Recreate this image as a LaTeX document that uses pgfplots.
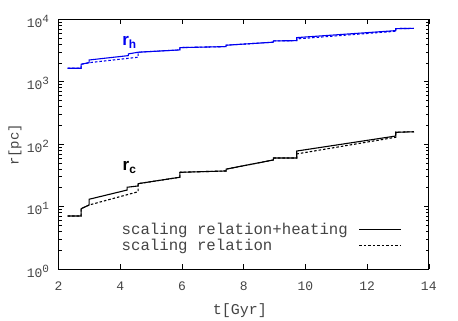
\documentclass[border=0pt]{standalone}
\usepackage{fontspec}
\setmainfont{Liberation Mono}
\newfontfamily\labfont{Liberation Sans}
\usepackage{pgfplots}
\pgfplotsset{compat=1.18}
\definecolor{rhblue}{HTML}{0000F0}
\definecolor{txtgray}{HTML}{444444}
\newcommand{\tenexp}[1]{10\raisebox{5pt}{\fontsize{11}{11}\selectfont#1}}

\begin{document}
\begin{tikzpicture}
\begin{axis}[
  at={(0pt,0pt)}, anchor=south west,
  scale only axis, width=370.2pt, height=249.7pt,
  xmin=2, xmax=14, ymode=log, ymin=1, ymax=10000,
  xtick={2,4,6,8,10,12,14},
  xticklabels={2,4,6,8,10,12,14},
  ytick={1,10,100,1000,10000},
  yticklabels={\tenexp{0},\tenexp{1},\tenexp{2},\tenexp{3},\tenexp{4}},
  tick align=inside,
  major tick length=5pt, minor tick length=3pt,
  tick style={black, line width=0.6pt},
  axis line style={black, line width=0.9pt},
  xticklabel style={font=\fontsize{13}{13}\selectfont, text=txtgray, yshift=-9pt},
  yticklabel style={font=\fontsize{13}{13}\selectfont, text=txtgray, xshift=-6pt, yshift=-2pt},
  xlabel={t[Gyr]}, ylabel={r[pc]},
  every axis x label/.style={at={(axis description cs:0.49,-0.167)}, anchor=center,
    font=\fontsize{15}{15}\selectfont, text=txtgray},
  every axis y label/.style={at={(axis description cs:-0.118,0.497)}, anchor=center, rotate=90,
    font=\fontsize{14}{14}\selectfont, text=txtgray},
  legend plot pos=right,
  legend cell align=left,
  legend image code/.code={\draw[#1] (0pt,0pt) -- (42pt,0pt);},
  legend style={draw=none, fill=none, at={(0.936,0.126)}, anchor=east,
    font=\fontsize{15.7}{15.7}\selectfont, text=txtgray, row sep=1pt, column sep=6pt,
    nodes={inner xsep=5pt, inner ysep=1pt}},
  clip=false,
]
% r_h, scaling relation + heating
\addplot[rhblue, line width=1.1pt, forget plot] coordinates {
  (2.29,1645) (2.73,1645) (2.73,1905) (2.99,2020) (2.99,2230) (4.26,2620)
  (4.26,2790) (4.58,2970) (5.93,3235) (5.93,3520) (7.43,3655) (7.43,3845)
  (8.96,4300) (8.96,4510) (9.72,4550) (9.72,5090) (12.93,6590) (12.93,7100)
  (13.52,7150)
};
% r_h, scaling relation
\addplot[rhblue, line width=1.1pt, dash pattern=on 2.5pt off 2pt, forget plot] coordinates {
  (2.29,1645) (2.73,1645) (2.73,1905) (2.99,2020) (4.58,2470) (4.58,2970)
  (5.93,3235) (5.93,3520) (7.43,3655) (7.43,3845) (8.96,4300) (8.96,4510)
  (9.72,4550) (9.72,4850) (12.93,6440) (12.93,7100) (13.52,7150)
};
% r_c, scaling relation + heating
\addplot[black, line width=1.1pt] coordinates {
  (2.29,7.07) (2.73,7.07) (2.73,9.25) (2.99,10.6) (2.99,13.1) (4.22,18.4)
  (4.22,20.4) (4.58,21.4) (4.58,23.3) (5.93,29.5) (5.93,35.4) (7.43,37.2)
  (7.43,39.8) (8.96,55.8) (8.96,60.1) (9.72,60.1) (9.72,77.6) (12.93,135)
  (12.93,155) (13.52,158)
};
\addlegendentry{scaling relation+heating}
% r_c, scaling relation
\addplot[black, line width=1.1pt, dash pattern=on 2.5pt off 2pt] coordinates {
  (2.29,7.07) (2.73,7.07) (2.73,9.25) (2.99,10.6) (4.58,17.3) (4.58,23.3)
  (5.93,29.5) (5.93,35.4) (7.43,37.2) (7.43,39.8) (8.96,55.8) (8.96,60.1)
  (9.72,60.1) (9.72,69.7) (12.93,129) (12.93,155) (13.52,158)
};
\addlegendentry{scaling relation}
\node[text=rhblue, font=\labfont\bfseries\fontsize{17}{17}\selectfont] at (axis cs:4.3,4300) {r\textsubscript{h}};
\node[text=black, font=\labfont\bfseries\fontsize{17}{17}\selectfont] at (axis cs:4.3,42) {r\textsubscript{c}};
\end{axis}
\pgfresetboundingbox
\path[use as bounding box] (-58.6pt,-52pt) rectangle (399.4pt,269pt);
\end{tikzpicture}
\end{document}
